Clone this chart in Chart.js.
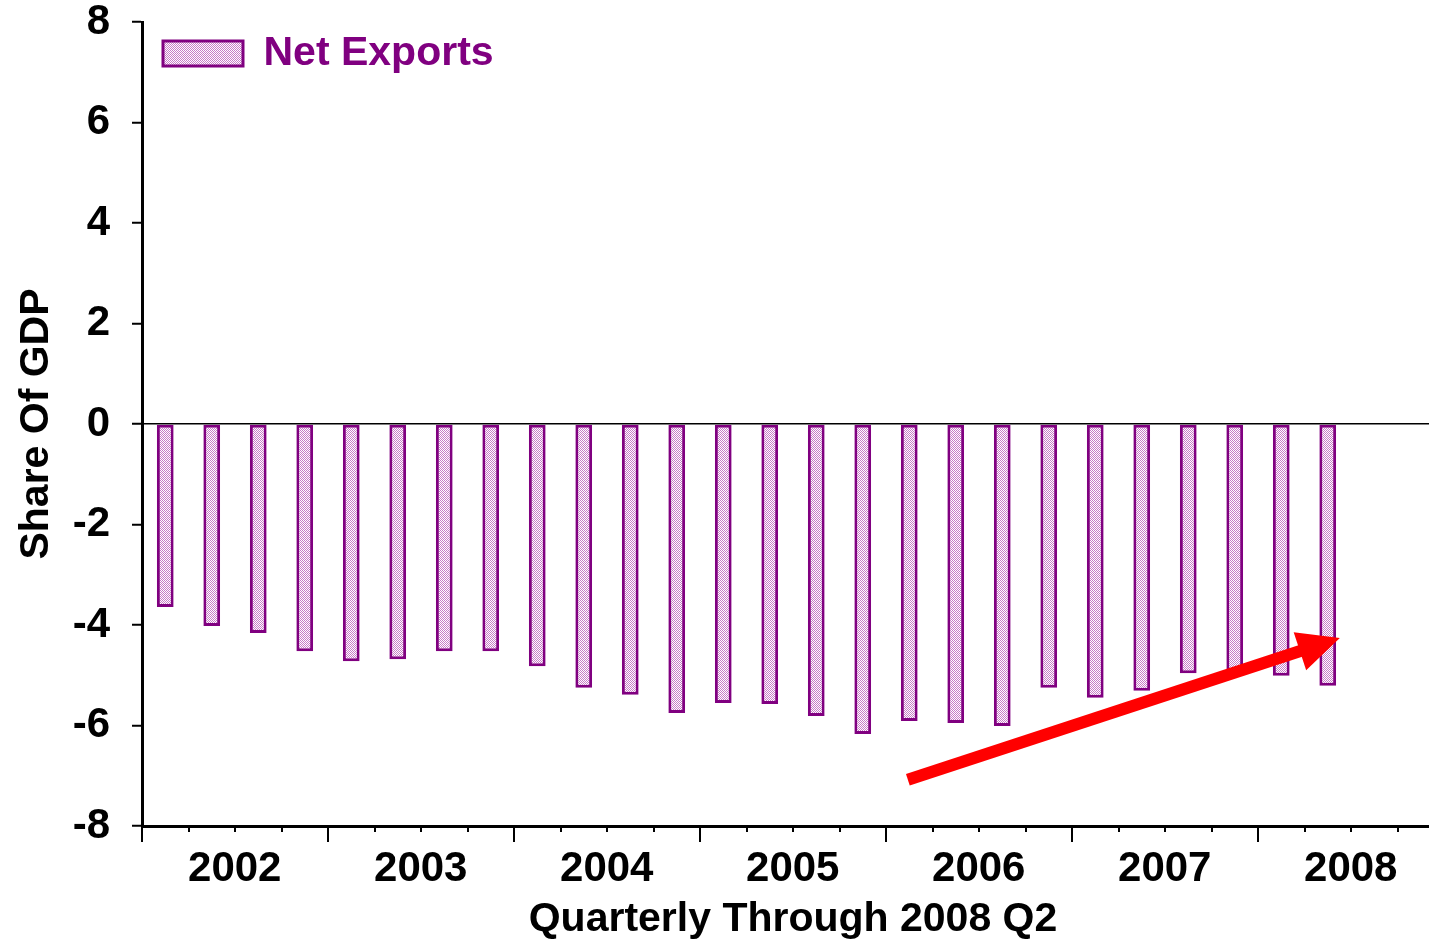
<!DOCTYPE html>
<html>
<head>
<meta charset="utf-8">
<script src="https://cdn.jsdelivr.net/npm/chart.js@4/dist/chart.umd.min.js"></script>
<style>
  html, body { margin: 0; padding: 0; background: #fff; overflow: hidden; }
  #wrap { width: 1460px; height: 946px; }
</style>
</head>
<body>
<div id="wrap"><canvas id="mychart" width="1460" height="946"></canvas></div>
<script>
// data -----------------------------------------------------------------
const years = ['2002', '2003', '2004', '2005', '2006', '2007', '2008'];
const quarters = ['Q1', 'Q2', 'Q3', 'Q4'];
const netExports = [
  -3.64, -4.02, -4.16, -4.52,
  -4.72, -4.68, -4.52, -4.52,
  -4.82, -5.25, -5.39, -5.75,
  -5.55, -5.57, -5.81, -6.17,
  -5.91, -5.95, -6.01, -5.25,
  -5.45, -5.31, -4.96, -5.00,
  -5.01, -5.21
];
const yTicks = [-8, -6, -4, -2, 0, 2, 4, 6, 8];
// arrow annotation, in data units (category index, share of GDP)
const arrowFrom = [15.97, -7.08];
const arrowTo = [25.26, -4.26];

// every quarter of every year gets a slot (axis runs to end of 2008)
const labels = [];
years.forEach(y => quarters.forEach(q => labels.push(y + ' ' + q)));
const values = labels.map((l, i) => i < netExports.length ? netExports[i] : null);

const purple = '#800080';
const font = 'Liberation Sans, Arial, sans-serif';

// dotted pink fill like the original
function dotPattern() {
  const c = document.createElement('canvas');
  c.width = 2; c.height = 2;
  const g = c.getContext('2d');
  g.fillStyle = '#fff';
  g.fillRect(0, 0, 2, 2);
  g.fillStyle = '#c77cc7';
  g.fillRect(0, 0, 1, 1);
  g.fillRect(1, 1, 1, 1);
  return g.createPattern(c, 'repeat');
}
const ctx = document.getElementById('mychart').getContext('2d');
const fill = dotPattern();

// x axis ticks: short at every quarter, long at every year
const axisTicks = {
  id: 'axisTicks',
  afterDraw(chart) {
    const x = chart.scales.x;
    const c = chart.ctx;
    const half = (x.getPixelForValue(1) - x.getPixelForValue(0)) / 2;
    c.save();
    c.strokeStyle = '#000';
    c.lineWidth = 2;
    for (let i = 0; i <= labels.length; i++) {
      const px = Math.round(x.getPixelForValue(i) - half);
      const len = i % 4 === 0 ? 16 : 6;
      c.beginPath();
      c.moveTo(px, x.top);
      c.lineTo(px, x.top + len);
      c.stroke();
    }
    c.restore();
  }
};

// red arrow
const arrow = {
  id: 'arrow',
  afterDatasetsDraw(chart) {
    const x = chart.scales.x, y = chart.scales.y;
    const c = chart.ctx;
    const x0 = x.getPixelForValue(arrowFrom[0]), y0 = y.getPixelForValue(arrowFrom[1]);
    const x1 = x.getPixelForValue(arrowTo[0]), y1 = y.getPixelForValue(arrowTo[1]);
    const ang = Math.atan2(y1 - y0, x1 - x0);
    const headLen = 42, headW = 20;
    const bx = x1 - headLen * Math.cos(ang), by = y1 - headLen * Math.sin(ang);
    c.save();
    c.strokeStyle = '#ff0000';
    c.fillStyle = '#ff0000';
    c.lineWidth = 12;
    c.beginPath();
    c.moveTo(x0, y0);
    c.lineTo(bx + 2 * Math.cos(ang), by + 2 * Math.sin(ang));
    c.stroke();
    c.beginPath();
    c.moveTo(x1, y1);
    c.lineTo(bx + headW * Math.sin(ang), by - headW * Math.cos(ang));
    c.lineTo(bx - headW * Math.sin(ang), by + headW * Math.cos(ang));
    c.closePath();
    c.fill();
    c.restore();
  }
};

new Chart(ctx, {
  type: 'bar',
  data: {
    labels: labels,
    datasets: [{
      label: 'Net Exports',
      data: values,
      backgroundColor: fill,
      borderColor: purple,
      borderWidth: 3,
      borderSkipped: false,
      categoryPercentage: 1,
      barPercentage: 0.36
    }]
  },
  options: {
    responsive: false,
    animation: false,
    layout: { padding: { top: 22, right: 16, left: 0, bottom: 0 } },
    plugins: {
      tooltip: { enabled: false },
      legend: {
        position: 'chartArea',
        align: 'start',
        title: {
          display: true,
          text: ' ',
          font: { size: 10, lineHeight: 1 },
          padding: { top: 2, bottom: 0 }
        },
        labels: {
          boxWidth: 80,
          boxHeight: 25,
          padding: 21,
          color: purple,
          font: { family: font, size: 41, weight: 'bold' }
        }
      }
    },
    scales: {
      x: {
        offset: true,
        grid: { display: false, offset: true },
        border: { color: '#000', width: 3 },
        ticks: {
          autoSkip: false,
          maxRotation: 0,
          padding: 10,
          labelOffset: 23,
          color: '#000',
          font: { family: font, size: 42, weight: 'bold' },
          callback: (v, i) => i % 4 === 1 ? years[Math.floor(i / 4)] : ''
        },
        title: {
          display: true,
          text: 'Quarterly Through 2008 Q2',
          color: '#000',
          font: { family: font, size: 41, weight: 'bold' },
          padding: { top: 0, bottom: 2 }
        },
        afterFit: s => { s.height = 120; }
      },
      y: {
        min: -8,
        max: 8,
        afterBuildTicks: s => { s.ticks = yTicks.map(v => ({ value: v })); },
        grid: {
          color: c => c.tick && c.tick.value === 0 ? '#000' : 'rgba(0,0,0,0)',
          lineWidth: 1.5,
          tickColor: '#000',
          tickWidth: 2,
          tickLength: 10
        },
        border: { color: '#000', width: 3 },
        ticks: {
          padding: 22,
          color: '#000',
          font: { family: font, size: 42, weight: 'bold', lineHeight: 1.05 }
        },
        title: {
          display: true,
          text: 'Share Of GDP',
          color: '#000',
          font: { family: font, size: 41, weight: 'bold' },
          padding: { top: 12, bottom: 0 }
        },
        afterFit: s => {
          s.width = 142;
          s.paddingTop = 0;
          s.paddingBottom = 0;
        }
      }
    }
  },
  plugins: [axisTicks, arrow]
});
</script>
</body>
</html>
